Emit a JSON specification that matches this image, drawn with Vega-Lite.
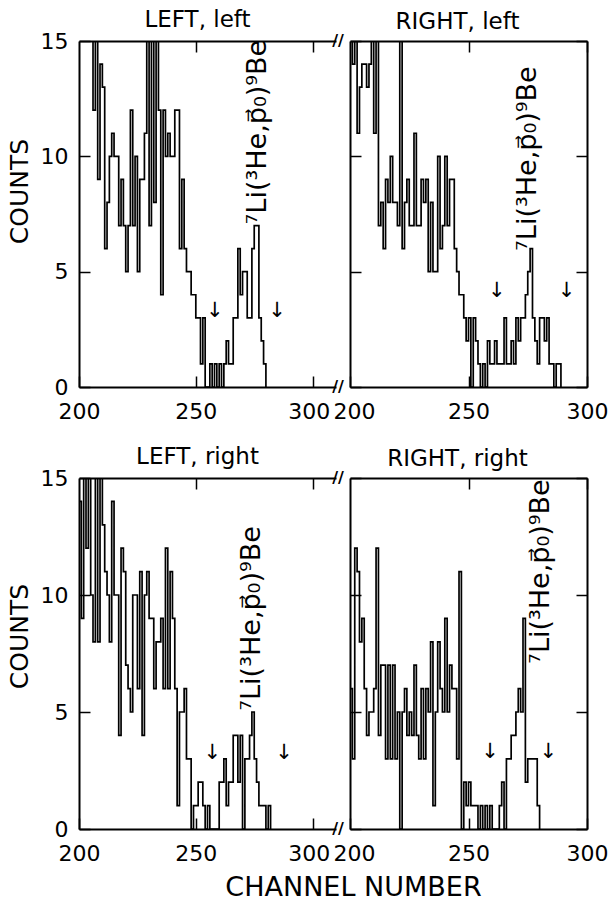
{
  "$schema": "https://vega.github.io/schema/vega-lite/v6.json",
  "padding": {"left": 7, "top": 9, "right": 5, "bottom": 5},
  "background": "white",
  "datasets": {
    "TL": [
      {"ch":205,"c":16},{"ch":206,"c":12},{"ch":207,"c":16},{"ch":208,"c":9},{"ch":209,"c":14},{"ch":210,"c":13},{"ch":211,"c":6},{"ch":212,"c":8},{"ch":213,"c":10},{"ch":214,"c":11},
      {"ch":215,"c":10},{"ch":216,"c":10},{"ch":217,"c":7},{"ch":218,"c":9},{"ch":219,"c":7},{"ch":220,"c":5},{"ch":221,"c":7},{"ch":222,"c":12},{"ch":223,"c":7},{"ch":224,"c":10},
      {"ch":225,"c":5},{"ch":226,"c":9},{"ch":227,"c":9},{"ch":228,"c":11},{"ch":229,"c":16},{"ch":230,"c":7},{"ch":231,"c":16},{"ch":232,"c":8},{"ch":233,"c":16},{"ch":234,"c":12},
      {"ch":235,"c":4},{"ch":236,"c":12},{"ch":237,"c":10},{"ch":238,"c":11},{"ch":239,"c":10},{"ch":240,"c":10},{"ch":241,"c":12},{"ch":242,"c":12},{"ch":243,"c":6},{"ch":244,"c":9},
      {"ch":245,"c":6},{"ch":246,"c":5},{"ch":247,"c":5},{"ch":248,"c":4},{"ch":249,"c":4},{"ch":250,"c":3},{"ch":251,"c":3},{"ch":252,"c":1},{"ch":253,"c":3},{"ch":254,"c":0},
      {"ch":255,"c":0},{"ch":256,"c":1},{"ch":257,"c":0},{"ch":258,"c":1},{"ch":259,"c":0},{"ch":260,"c":1},{"ch":261,"c":0},{"ch":262,"c":1},{"ch":263,"c":2},{"ch":264,"c":1},
      {"ch":265,"c":1},{"ch":266,"c":3},{"ch":267,"c":3},{"ch":268,"c":6},{"ch":269,"c":4},{"ch":270,"c":5},{"ch":271,"c":5},{"ch":272,"c":3},{"ch":273,"c":3},{"ch":274,"c":6},
      {"ch":275,"c":7},{"ch":276,"c":7},{"ch":277,"c":3},{"ch":278,"c":2},{"ch":279,"c":1},{"ch":280,"c":0}
    ],
    "TR": [
      {"ch":200,"c":16},{"ch":201,"c":14},{"ch":202,"c":16},{"ch":203,"c":11},{"ch":204,"c":13},{"ch":205,"c":14},{"ch":206,"c":14},{"ch":207,"c":13},{"ch":208,"c":14},{"ch":209,"c":16},
      {"ch":210,"c":11},{"ch":211,"c":16},{"ch":212,"c":7},{"ch":213,"c":8},{"ch":214,"c":6},{"ch":215,"c":9},{"ch":216,"c":8},{"ch":217,"c":10},{"ch":218,"c":8},{"ch":219,"c":8},
      {"ch":220,"c":7},{"ch":221,"c":16},{"ch":222,"c":6},{"ch":223,"c":8},{"ch":224,"c":9},{"ch":225,"c":7},{"ch":226,"c":7},{"ch":227,"c":11},{"ch":228,"c":7},{"ch":229,"c":7},
      {"ch":230,"c":9},{"ch":231,"c":8},{"ch":232,"c":9},{"ch":233,"c":5},{"ch":234,"c":8},{"ch":235,"c":5},{"ch":236,"c":5},{"ch":237,"c":10},{"ch":238,"c":6},{"ch":239,"c":7},
      {"ch":240,"c":10},{"ch":241,"c":7},{"ch":242,"c":9},{"ch":243,"c":9},{"ch":244,"c":6},{"ch":245,"c":5},{"ch":246,"c":4},{"ch":247,"c":4},{"ch":248,"c":3},{"ch":249,"c":2},
      {"ch":250,"c":3},{"ch":251,"c":0},{"ch":252,"c":3},{"ch":253,"c":2},{"ch":254,"c":1},{"ch":255,"c":0},{"ch":256,"c":1},{"ch":257,"c":0},{"ch":258,"c":2},{"ch":259,"c":1},
      {"ch":260,"c":1},{"ch":261,"c":2},{"ch":262,"c":1},{"ch":263,"c":1},{"ch":264,"c":1},{"ch":265,"c":3},{"ch":266,"c":1},{"ch":267,"c":1},{"ch":268,"c":2},{"ch":269,"c":1},
      {"ch":270,"c":3},{"ch":271,"c":2},{"ch":272,"c":3},{"ch":273,"c":3},{"ch":274,"c":4},{"ch":275,"c":5},{"ch":276,"c":6},{"ch":277,"c":3},{"ch":278,"c":2},{"ch":279,"c":1},
      {"ch":280,"c":3},{"ch":281,"c":3},{"ch":282,"c":2},{"ch":283,"c":3},{"ch":284,"c":1},{"ch":285,"c":1},{"ch":286,"c":0},{"ch":287,"c":1},{"ch":288,"c":1},{"ch":289,"c":0}
    ],
    "BL": [
      {"ch":200,"c":14},{"ch":201,"c":9},{"ch":202,"c":16},{"ch":203,"c":12},{"ch":204,"c":16},{"ch":205,"c":10},{"ch":206,"c":8},{"ch":207,"c":16},{"ch":208,"c":8},{"ch":209,"c":16},
      {"ch":210,"c":13},{"ch":211,"c":11},{"ch":212,"c":10},{"ch":213,"c":8},{"ch":214,"c":14},{"ch":215,"c":10},{"ch":216,"c":10},{"ch":217,"c":4},{"ch":218,"c":12},{"ch":219,"c":11},
      {"ch":220,"c":7},{"ch":221,"c":6},{"ch":222,"c":5},{"ch":223,"c":10},{"ch":224,"c":10},{"ch":225,"c":6},{"ch":226,"c":11},{"ch":227,"c":4},{"ch":228,"c":10},{"ch":229,"c":11},
      {"ch":230,"c":9},{"ch":231,"c":9},{"ch":232,"c":6},{"ch":233,"c":8},{"ch":234,"c":8},{"ch":235,"c":9},{"ch":236,"c":6},{"ch":237,"c":12},{"ch":238,"c":6},{"ch":239,"c":11},
      {"ch":240,"c":9},{"ch":241,"c":6},{"ch":242,"c":1},{"ch":243,"c":5},{"ch":244,"c":5},{"ch":245,"c":6},{"ch":246,"c":3},{"ch":247,"c":3},{"ch":248,"c":0},{"ch":249,"c":1},
      {"ch":250,"c":1},{"ch":251,"c":2},{"ch":252,"c":2},{"ch":253,"c":1},{"ch":254,"c":0},{"ch":255,"c":1},{"ch":256,"c":0},{"ch":257,"c":0},{"ch":258,"c":0},{"ch":259,"c":0},
      {"ch":260,"c":2},{"ch":261,"c":2},{"ch":262,"c":3},{"ch":263,"c":1},{"ch":264,"c":2},{"ch":265,"c":2},{"ch":266,"c":4},{"ch":267,"c":4},{"ch":268,"c":2},{"ch":269,"c":4},
      {"ch":270,"c":0},{"ch":271,"c":3},{"ch":272,"c":3},{"ch":273,"c":4},{"ch":274,"c":5},{"ch":275,"c":3},{"ch":276,"c":2},{"ch":277,"c":1},{"ch":278,"c":1},{"ch":279,"c":1},
      {"ch":280,"c":0},{"ch":281,"c":1},{"ch":282,"c":0}
    ],
    "BR": [
      {"ch":200,"c":6},{"ch":201,"c":3},{"ch":202,"c":12},{"ch":203,"c":11},{"ch":204,"c":8},{"ch":205,"c":9},{"ch":206,"c":6},{"ch":207,"c":4},{"ch":208,"c":5},{"ch":209,"c":5},
      {"ch":210,"c":6},{"ch":211,"c":12},{"ch":212,"c":4},{"ch":213,"c":7},{"ch":214,"c":7},{"ch":215,"c":3},{"ch":216,"c":7},{"ch":217,"c":3},{"ch":218,"c":7},{"ch":219,"c":3},
      {"ch":220,"c":5},{"ch":221,"c":0},{"ch":222,"c":5},{"ch":223,"c":6},{"ch":224,"c":4},{"ch":225,"c":5},{"ch":226,"c":4},{"ch":227,"c":7},{"ch":228,"c":4},{"ch":229,"c":3},
      {"ch":230,"c":6},{"ch":231,"c":3},{"ch":232,"c":6},{"ch":233,"c":5},{"ch":234,"c":8},{"ch":235,"c":1},{"ch":236,"c":5},{"ch":237,"c":8},{"ch":238,"c":6},{"ch":239,"c":5},
      {"ch":240,"c":9},{"ch":241,"c":5},{"ch":242,"c":7},{"ch":243,"c":6},{"ch":244,"c":6},{"ch":245,"c":3},{"ch":246,"c":11},{"ch":247,"c":0},{"ch":248,"c":2},{"ch":249,"c":1},
      {"ch":250,"c":2},{"ch":251,"c":1},{"ch":252,"c":1},{"ch":253,"c":1},{"ch":254,"c":0},{"ch":255,"c":1},{"ch":256,"c":0},{"ch":257,"c":1},{"ch":258,"c":0},{"ch":259,"c":1},
      {"ch":260,"c":0},{"ch":261,"c":0},{"ch":262,"c":0},{"ch":263,"c":1},{"ch":264,"c":2},{"ch":265,"c":0},{"ch":266,"c":3},{"ch":267,"c":3},{"ch":268,"c":4},{"ch":269,"c":4},
      {"ch":270,"c":5},{"ch":271,"c":6},{"ch":272,"c":5},{"ch":273,"c":9},{"ch":274,"c":2},{"ch":275,"c":3},{"ch":276,"c":3},{"ch":277,"c":3},{"ch":278,"c":3},{"ch":279,"c":1},
      {"ch":280,"c":0}
    ],
    "arrows": [
      {"p":"TL","ch":258.1,"c":3.3},{"p":"TL","ch":284.8,"c":3.3},
      {"p":"TR","ch":261.9,"c":4.15},{"p":"TR","ch":291.4,"c":4.15},
      {"p":"BL","ch":257,"c":3.25},{"p":"BL","ch":287.8,"c":3.25},
      {"p":"BR","ch":259.1,"c":3.3},{"p":"BR","ch":283.7,"c":3.3}
    ],
    "labels": [
      {"p":"TL","ch":276.5,"c":11.05},{"p":"TR","ch":275.1,"c":9.9},
      {"p":"BL","ch":273.9,"c":9.0},{"p":"BR","ch":280.6,"c":11.0}
    ],
    "breaks": [{"ch":310,"c":0},{"ch":310,"c":15}]
  },
  "title": {"text": "CHANNEL NUMBER", "orient": "bottom", "fontSize": 27, "anchor": "middle", "offset": 11, "dx": 46},
  "spacing": 24,
  "vconcat": [
    {
      "hconcat": [
        {
          "width": 257, "height": 346,
          "title": {"text": "LEFT, left", "dx": -10, "offset": -2},
          "resolve": {"axis": {"x": "independent", "y": "independent"}},
          "layer": [
            {"data": {"name": "TL"}, "mark": {"type": "line", "interpolate": "step-after", "clip": true, "color": "black", "strokeWidth": 1.7},
             "encoding": {
               "x": {"field": "ch", "type": "quantitative", "scale": {"domain": [200, 310], "nice": false, "zero": false}, "axis": {"orient": "bottom", "values": [200, 250, 300], "title": null, "labelOffset": {"condition": {"test": "datum.value == 300", "value": -4}, "value": 0}}},
               "y": {"field": "c", "type": "quantitative", "scale": {"domain": [0, 15], "nice": false}, "axis": {"orient": "left", "values": [0, 5, 10, 15], "title": "COUNTS", "titleY": 150}}}},
            {"data": {"name": "arrows"}, "transform": [{"filter": "datum.p == 'TL'"}], "mark": {"type": "text", "text": "↓", "fontSize": 21, "color": "black"},
             "encoding": {
               "x": {"field": "ch", "type": "quantitative", "scale": {"domain": [200, 310], "nice": false, "zero": false}, "axis": {"orient": "top", "values": [250, 300], "labels": false, "title": null}},
               "y": {"field": "c", "type": "quantitative", "scale": {"domain": [0, 15], "nice": false}, "axis": null}}},
            {"data": {"name": "breaks"}, "mark": {"type": "text", "text": "//", "fontSize": 16, "fontWeight": "bold", "dx": 2, "color": "black"},
             "encoding": {
               "x": {"field": "ch", "type": "quantitative", "scale": {"domain": [200, 310], "nice": false, "zero": false}, "axis": null},
               "y": {"field": "c", "type": "quantitative", "scale": {"domain": [0, 15], "nice": false}, "axis": null}}},
            {"data": {"name": "labels"}, "transform": [{"filter": "datum.p == 'TL'"}], "mark": {"type": "text", "text": "⁷Li(³He,p⃗₀)⁹Be", "angle": 270, "fontSize": 27, "align": "center", "baseline": "middle", "color": "black"},
             "encoding": {
               "x": {"field": "ch", "type": "quantitative", "scale": {"domain": [200, 310], "nice": false, "zero": false}, "axis": null},
               "y": {"field": "c", "type": "quantitative", "scale": {"domain": [0, 15], "nice": false}, "axis": null}}}
          ]
        },
        {
          "width": 237, "height": 346,
          "title": {"text": "RIGHT, left", "dx": -11, "offset": 6},
          "resolve": {"axis": {"x": "independent", "y": "independent"}},
          "layer": [
            {"data": {"name": "TR"}, "mark": {"type": "line", "interpolate": "step-after", "clip": true, "color": "black", "strokeWidth": 1.7},
             "encoding": {
               "x": {"field": "ch", "type": "quantitative", "scale": {"domain": [200, 300], "nice": false, "zero": false}, "axis": {"orient": "bottom", "values": [200, 250, 300], "title": null, "labelOffset": {"condition": {"test": "datum.value == 200", "value": 4}, "value": 0}}},
               "y": {"field": "c", "type": "quantitative", "scale": {"domain": [0, 15], "nice": false}, "axis": {"orient": "left", "values": [0, 5, 10, 15], "labels": false, "title": null}}}},
            {"data": {"name": "arrows"}, "transform": [{"filter": "datum.p == 'TR'"}], "mark": {"type": "text", "text": "↓", "fontSize": 21, "color": "black"},
             "encoding": {
               "x": {"field": "ch", "type": "quantitative", "scale": {"domain": [200, 300], "nice": false, "zero": false}, "axis": {"orient": "top", "values": [250, 300], "labels": false, "title": null}},
               "y": {"field": "c", "type": "quantitative", "scale": {"domain": [0, 15], "nice": false}, "axis": {"orient": "right", "values": [0, 5, 10, 15], "labels": false, "title": null}}}},
            {"data": {"name": "labels"}, "transform": [{"filter": "datum.p == 'TR'"}], "mark": {"type": "text", "text": "⁷Li(³He,p⃗₀)⁹Be", "angle": 270, "fontSize": 27, "align": "center", "baseline": "middle", "color": "black"},
             "encoding": {
               "x": {"field": "ch", "type": "quantitative", "scale": {"domain": [200, 300], "nice": false, "zero": false}, "axis": null},
               "y": {"field": "c", "type": "quantitative", "scale": {"domain": [0, 15], "nice": false}, "axis": null}}}
          ]
        }
      ],
      "spacing": 14,
      "bounds": "flush"
    },
    {
      "hconcat": [
        {
          "width": 257, "height": 351,
          "title": {"text": "LEFT, right", "dx": -10, "offset": -2},
          "resolve": {"axis": {"x": "independent", "y": "independent"}},
          "layer": [
            {"data": {"name": "BL"}, "mark": {"type": "line", "interpolate": "step-after", "clip": true, "color": "black", "strokeWidth": 1.7},
             "encoding": {
               "x": {"field": "ch", "type": "quantitative", "scale": {"domain": [200, 310], "nice": false, "zero": false}, "axis": {"orient": "bottom", "values": [200, 250, 300], "title": null, "labelOffset": {"condition": {"test": "datum.value == 300", "value": -4}, "value": 0}}},
               "y": {"field": "c", "type": "quantitative", "scale": {"domain": [0, 15], "nice": false}, "axis": {"orient": "left", "values": [0, 5, 10, 15], "title": "COUNTS", "titleY": 158}}}},
            {"data": {"name": "arrows"}, "transform": [{"filter": "datum.p == 'BL'"}], "mark": {"type": "text", "text": "↓", "fontSize": 21, "color": "black"},
             "encoding": {
               "x": {"field": "ch", "type": "quantitative", "scale": {"domain": [200, 310], "nice": false, "zero": false}, "axis": {"orient": "top", "values": [250, 300], "labels": false, "title": null}},
               "y": {"field": "c", "type": "quantitative", "scale": {"domain": [0, 15], "nice": false}, "axis": null}}},
            {"data": {"name": "breaks"}, "mark": {"type": "text", "text": "//", "fontSize": 16, "fontWeight": "bold", "dx": 2, "color": "black"},
             "encoding": {
               "x": {"field": "ch", "type": "quantitative", "scale": {"domain": [200, 310], "nice": false, "zero": false}, "axis": null},
               "y": {"field": "c", "type": "quantitative", "scale": {"domain": [0, 15], "nice": false}, "axis": null}}},
            {"data": {"name": "labels"}, "transform": [{"filter": "datum.p == 'BL'"}], "mark": {"type": "text", "text": "⁷Li(³He,p⃗₀)⁹Be", "angle": 270, "fontSize": 27, "align": "center", "baseline": "middle", "color": "black"},
             "encoding": {
               "x": {"field": "ch", "type": "quantitative", "scale": {"domain": [200, 310], "nice": false, "zero": false}, "axis": null},
               "y": {"field": "c", "type": "quantitative", "scale": {"domain": [0, 15], "nice": false}, "axis": null}}}
          ]
        },
        {
          "width": 237, "height": 351,
          "title": {"text": "RIGHT, right", "dx": -11, "offset": 6},
          "resolve": {"axis": {"x": "independent", "y": "independent"}},
          "layer": [
            {"data": {"name": "BR"}, "mark": {"type": "line", "interpolate": "step-after", "clip": true, "color": "black", "strokeWidth": 1.7},
             "encoding": {
               "x": {"field": "ch", "type": "quantitative", "scale": {"domain": [200, 300], "nice": false, "zero": false}, "axis": {"orient": "bottom", "values": [200, 250, 300], "title": null, "labelOffset": {"condition": {"test": "datum.value == 200", "value": 4}, "value": 0}}},
               "y": {"field": "c", "type": "quantitative", "scale": {"domain": [0, 15], "nice": false}, "axis": {"orient": "left", "values": [0, 5, 10, 15], "labels": false, "title": null}}}},
            {"data": {"name": "arrows"}, "transform": [{"filter": "datum.p == 'BR'"}], "mark": {"type": "text", "text": "↓", "fontSize": 21, "color": "black"},
             "encoding": {
               "x": {"field": "ch", "type": "quantitative", "scale": {"domain": [200, 300], "nice": false, "zero": false}, "axis": {"orient": "top", "values": [250, 300], "labels": false, "title": null}},
               "y": {"field": "c", "type": "quantitative", "scale": {"domain": [0, 15], "nice": false}, "axis": {"orient": "right", "values": [0, 5, 10, 15], "labels": false, "title": null}}}},
            {"data": {"name": "labels"}, "transform": [{"filter": "datum.p == 'BR'"}], "mark": {"type": "text", "text": "⁷Li(³He,p⃗₀)⁹Be", "angle": 270, "fontSize": 27, "align": "center", "baseline": "middle", "color": "black"},
             "encoding": {
               "x": {"field": "ch", "type": "quantitative", "scale": {"domain": [200, 300], "nice": false, "zero": false}, "axis": null},
               "y": {"field": "c", "type": "quantitative", "scale": {"domain": [0, 15], "nice": false}, "axis": null}}}
          ]
        }
      ],
      "spacing": 14,
      "bounds": "flush"
    }
  ],
  "config": {
    "font": "DejaVu Sans",
    "view": {"stroke": null},
    "axis": {"grid": false, "domainColor": "black", "domainWidth": 2, "tickColor": "black", "tickWidth": 1.5, "tickSize": -11,
             "labelFontSize": 22, "labelColor": "black", "labelFont": "DejaVu Sans", "labelFlush": false, "labelOverlap": false, "labelPadding": 22,
             "titleFontSize": 25, "titleFontWeight": "normal", "titleColor": "black", "titleFont": "DejaVu Sans", "titlePadding": 8},
    "axisBottom": {"labelPadding": 25},
    "title": {"fontSize": 23, "fontWeight": "normal", "font": "DejaVu Sans", "color": "black", "offset": 8},
    "text": {"font": "DejaVu Sans", "color": "black"}
  }
}
